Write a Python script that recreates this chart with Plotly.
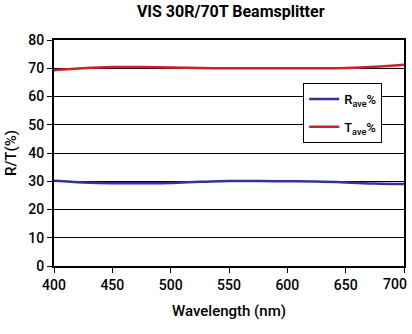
import plotly.graph_objects as go

wl_r = [400, 425, 450, 475, 500, 525, 550, 575, 600, 625, 650, 675, 700]
r_ave = [30.2, 29.6, 29.3, 29.3, 29.4, 29.8, 30.1, 30.1, 30.0, 29.9, 29.6, 29.2, 29.0]
wl_t = [400, 425, 450, 475, 500, 525, 550, 575, 600, 625, 650, 675, 700]
t_ave = [69.3, 70.0, 70.4, 70.4, 70.3, 70.1, 70.0, 70.0, 70.0, 70.0, 70.1, 70.5, 71.2]
x_ticks = [400, 450, 500, 550, 600, 650, 700]
y_ticks = [0, 10, 20, 30, 40, 50, 60, 70, 80]

FONT = "Roboto, sans-serif"

fig = go.Figure()
fig.add_trace(go.Scatter(x=wl_r, y=r_ave, mode="lines", name="R<sub>ave</sub>%",
                         legendgroup="r",
                         line=dict(color="#33339a", width=2.5, shape="spline")))
fig.add_trace(go.Scatter(x=wl_t, y=t_ave, mode="lines", name="T<sub>ave</sub>%",
                         legendgroup="t",
                         line=dict(color="#d0202c", width=2.5, shape="spline")))

# last tick label is right-aligned so it stays inside the picture
tick_text = [str(v) for v in x_ticks[:-1]] + [""]
fig.add_annotation(x=x_ticks[-1], y=0, xref="x", yref="y", text=str(x_ticks[-1]),
                   showarrow=False, xanchor="right", yanchor="top", xshift=5, yshift=-8,
                   font=dict(size=14, family=FONT, weight=500, color="black"))

fig.update_layout(
    width=412, height=334,
    margin=dict(l=54, r=8, t=40, b=68, autoexpand=False),
    paper_bgcolor="white", plot_bgcolor="white",
    font=dict(family=FONT, color="black", size=14),
    title=dict(text="<b>VIS 30R/70T Beamsplitter</b>", x=0.56, xanchor="center",
               y=0.965, yanchor="middle", font=dict(size=16, family=FONT)),
    showlegend=True,
    legend=dict(x=0.712, y=0.81, xanchor="left", yanchor="top",
                bgcolor="white", bordercolor="black", borderwidth=1,
                font=dict(size=13, family=FONT, weight=500), itemwidth=30,
                traceorder="grouped", tracegroupgap=8),
    xaxis=dict(range=[400, 700], tickvals=x_ticks, ticktext=tick_text,
               showgrid=False, showline=True, linecolor="black", linewidth=2,
               mirror=True, ticks="outside", ticklen=5, tickcolor="black",
               ticklabeloverflow="allow", automargin=False,
               tickfont=dict(size=14, family=FONT, weight=500),
               title=dict(text="Wavelength (nm)", font=dict(size=15, family=FONT, weight=500), standoff=14),
               zeroline=False),
    yaxis=dict(range=[0, 80], tickvals=y_ticks,
               showgrid=True, gridcolor="black", gridwidth=1,
               showline=True, linecolor="black", linewidth=2, mirror=True,
               ticks="outside", ticklen=5, tickcolor="black", automargin=False,
               tickfont=dict(size=14, family=FONT, weight=500),
               title=dict(text="R/T(%)", font=dict(size=15, family=FONT, weight=500), standoff=8),
               zeroline=False),
)

fig.write_html("out.html")
